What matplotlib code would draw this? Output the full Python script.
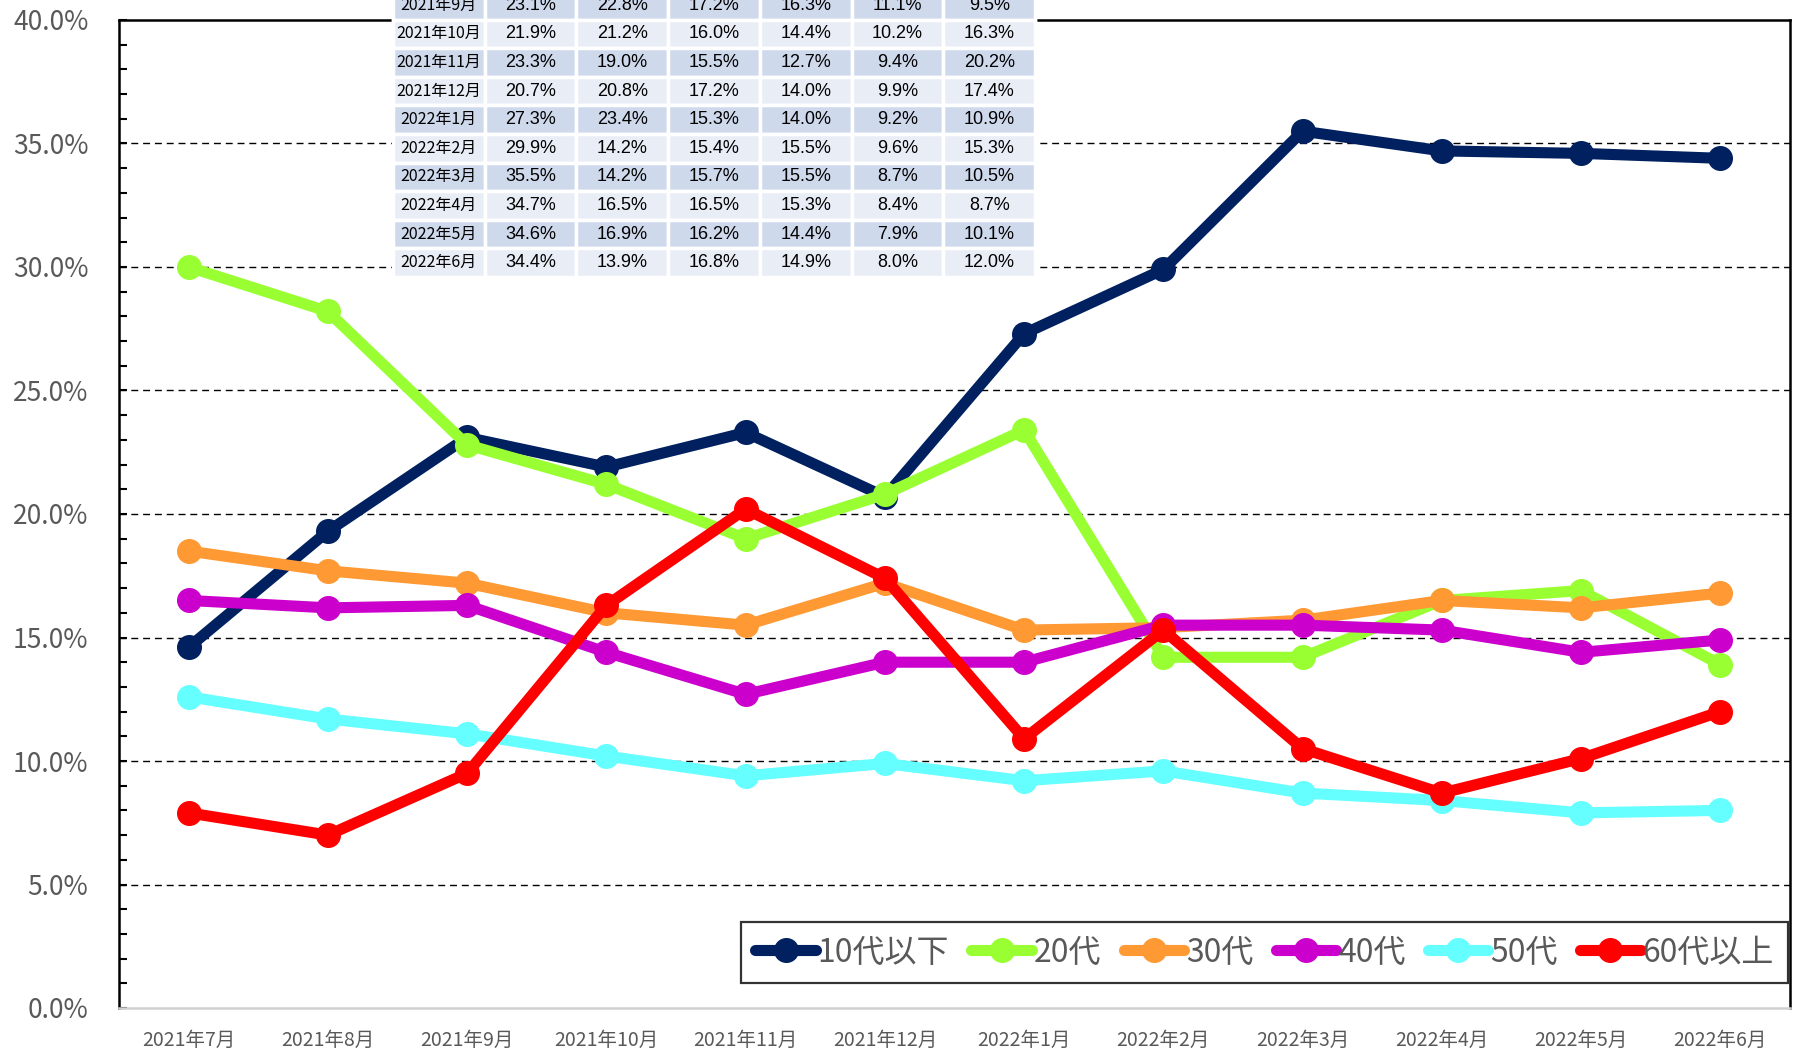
import numpy as np
import matplotlib
matplotlib.use('Agg')
import matplotlib.pyplot as plt
from matplotlib.ticker import MultipleLocator, FuncFormatter

plt.rcParams['font.family'] = ['Noto Sans CJK JP', 'DejaVu Sans']

months = ['2021年7月', '2021年8月', '2021年9月', '2021年10月', '2021年11月', '2021年12月',
          '2022年1月', '2022年2月', '2022年3月', '2022年4月', '2022年5月', '2022年6月']
groups = ['10代以下', '20代', '30代', '40代', '50代', '60代以上']
u10 = [14.6, 19.3, 23.1, 21.9, 23.3, 20.7, 27.3, 29.9, 35.5, 34.7, 34.6, 34.4]
a20 = [30.0, 28.2, 22.8, 21.2, 19.0, 20.8, 23.4, 14.2, 14.2, 16.5, 16.9, 13.9]
a30 = [18.5, 17.7, 17.2, 16.0, 15.5, 17.2, 15.3, 15.4, 15.7, 16.5, 16.2, 16.8]
a40 = [16.5, 16.2, 16.3, 14.4, 12.7, 14.0, 14.0, 15.5, 15.5, 15.3, 14.4, 14.9]
a50 = [12.6, 11.7, 11.1, 10.2, 9.4, 9.9, 9.2, 9.6, 8.7, 8.4, 7.9, 8.0]
a60 = [7.9, 7.0, 9.5, 16.3, 20.2, 17.4, 10.9, 15.3, 10.5, 8.7, 10.1, 12.0]
series = [u10, a20, a30, a40, a50, a60]
colors = ['#002060', '#99FF33', '#FF9933', '#CC00CC', '#66FFFF', '#FF0000']

fig = plt.figure(figsize=(17.96, 10.5), dpi=100)
ax = fig.add_axes([119 / 1796, 1 - 1008 / 1050, (1790 - 119) / 1796, (1008 - 20) / 1050])

x = np.arange(len(months))
for vals, name, c in zip(series, groups, colors):
    ax.plot(x, vals, color=c, lw=8, marker='o', ms=17, label=name,
            solid_capstyle='round', solid_joinstyle='round')

ax.set_xlim(-0.5, len(months) - 0.5)
ax.set_ylim(0, 40)
ax.yaxis.set_major_locator(MultipleLocator(5))
ax.yaxis.set_minor_locator(MultipleLocator(1))
ax.yaxis.set_major_formatter(FuncFormatter(lambda v, p: f'{v:.1f}%'))
ax.set_xticks(x)
ax.set_xticklabels(months)
ax.tick_params(axis='x', length=0, pad=16, labelsize=14, labelcolor='#595959')
ax.tick_params(axis='y', which='both', direction='in', length=6, width=1.5,
               pad=22, labelsize=19, labelcolor='#595959')
for v in range(5, 40, 5):
    ax.axhline(v, color='black', lw=1.0, ls=(0, (5, 3.5)), zorder=0.5)
for s in ['left', 'top', 'right']:
    ax.spines[s].set_color('black')
    ax.spines[s].set_linewidth(1.8)
ax.spines['bottom'].set_color('#D0D0D0')
ax.spines['bottom'].set_linewidth(1.8)

leg = ax.legend(loc='lower right', bbox_to_anchor=(1788 / 1796, 1 - 983 / 1050),
                bbox_transform=fig.transFigure, ncol=6, fontsize=23, frameon=True,
                fancybox=False, edgecolor='black', handlelength=1.9, handletextpad=0.05,
                columnspacing=0.7, borderpad=0.45, borderaxespad=0)
leg.get_frame().set_linewidth(1.6)
for t in leg.get_texts():
    t.set_color('#595959')

# data table (top rows fall outside the figure, as in the original)
tab_ax = fig.add_axes([393 / 1796, 1 - 277 / 1050, (1035 - 393) / 1796, 12 * 28.6 / 1050])
tab_ax.axis('off')
cell_text = [[m] + [f'{s[i]:.1f}%' for s in series] for i, m in enumerate(months)]
tbl = tab_ax.table(cellText=cell_text, bbox=[0, 0, 1, 1], cellLoc='center')
tbl.auto_set_font_size(False)
for (r, c), cell in tbl.get_celld().items():
    cell.set_facecolor('#CFD9EC' if r % 2 == 0 else '#E9EDF6')
    cell.set_edgecolor('white')
    cell.set_linewidth(2.5)
    txt = cell.get_text()
    if c == 0:
        txt.set_fontsize(11.5)
    else:
        txt.set_fontsize(13)
        txt.set_fontfamily(['Liberation Sans', 'DejaVu Sans'])

fig.savefig('out.png', dpi=100)
